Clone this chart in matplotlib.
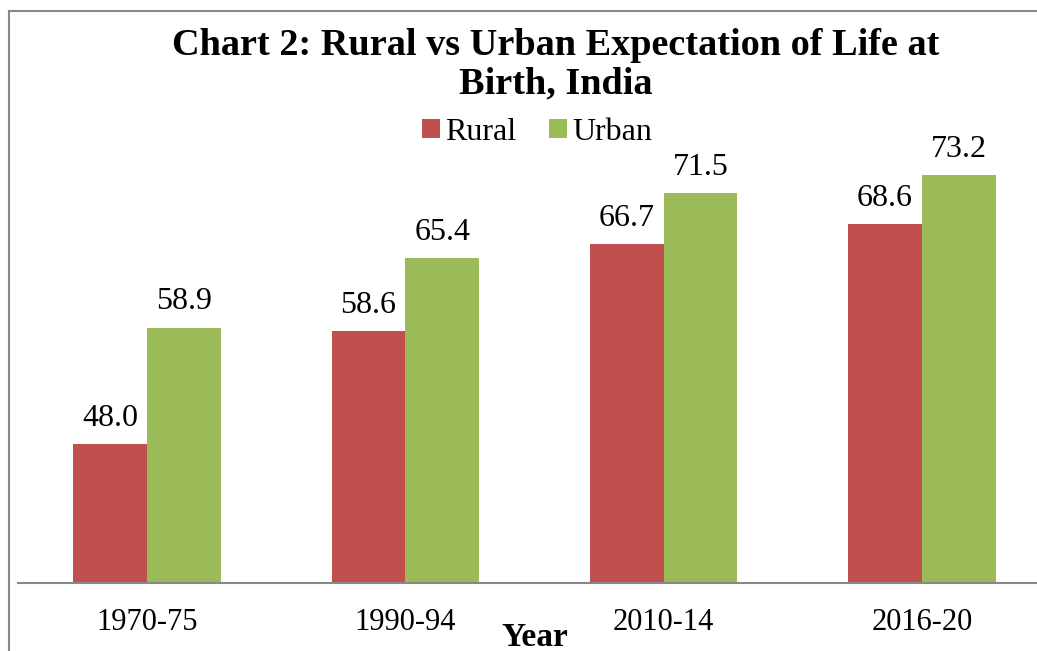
import matplotlib.pyplot as plt
from matplotlib.patches import Rectangle
import numpy as np

years = ['1970-75', '1990-94', '2010-14', '2016-20']
rural = [48.0, 58.6, 66.7, 68.6]
urban = [58.9, 65.4, 71.5, 73.2]

plt.rcParams['font.family'] = ['Liberation Serif', 'DejaVu Serif']

W, H = 1037, 651
fig = plt.figure(figsize=(W / 100, H / 100), dpi=100)

# outer chart border (cut at right and bottom like the reference)
fig.patches.append(Rectangle((9 / W, -0.1), 1.1, 1 - 11 / H + 0.1, transform=fig.transFigure,
                             fill=False, edgecolor='#888888', linewidth=1.5))

# plot area: category axis runs past the right edge of the image
ax = fig.add_axes([18 / W, 68 / H, (1051 - 18) / W, (583 - 102) / H])
x = np.arange(len(years))
bw = 0.286
b1 = ax.bar(x - bw / 2, rural, bw, color='#C0504D', label='Rural', bottom=0)
b2 = ax.bar(x + bw / 2, urban, bw, color='#9BBB59', label='Urban', bottom=0)
ax.set_ylim(35, 80)
ax.set_xlim(-0.5, len(years) - 0.5)

for bars, vals in ((b1, rural), (b2, urban)):
    for b, v in zip(bars, vals):
        ax.annotate(f'{v:.1f}', (b.get_x() + b.get_width() / 2, v), xytext=(0, 8),
                    textcoords='offset points', ha='center', va='bottom', fontsize=23)

for s in ['top', 'right', 'left']:
    ax.spines[s].set_visible(False)
ax.spines['bottom'].set_color('#888888')
ax.spines['bottom'].set_linewidth(1.5)
ax.set_yticks([])
ax.set_xticks(x)
ax.set_xticklabels(years, fontsize=22)
ax.tick_params(axis='x', length=0, pad=18)

fig.text(535 / W, 1 - 637 / H, 'Year', ha='center', va='center', fontsize=24, fontweight='bold')
fig.text(556 / W, 1 - 65 / H, 'Chart 2: Rural vs Urban Expectation of Life at\nBirth, India',
         ha='center', va='center', fontsize=27.5, fontweight='bold', linespacing=1.12)

fig.legend(handles=[b1, b2], loc='center', bbox_to_anchor=(537 / W, 1 - 132 / H), ncol=2,
           frameon=False, fontsize=23, handlelength=0.55, handleheight=0.55, handletextpad=0.17,
           columnspacing=1.03, borderpad=0)

fig.savefig('out.png', dpi=100)
